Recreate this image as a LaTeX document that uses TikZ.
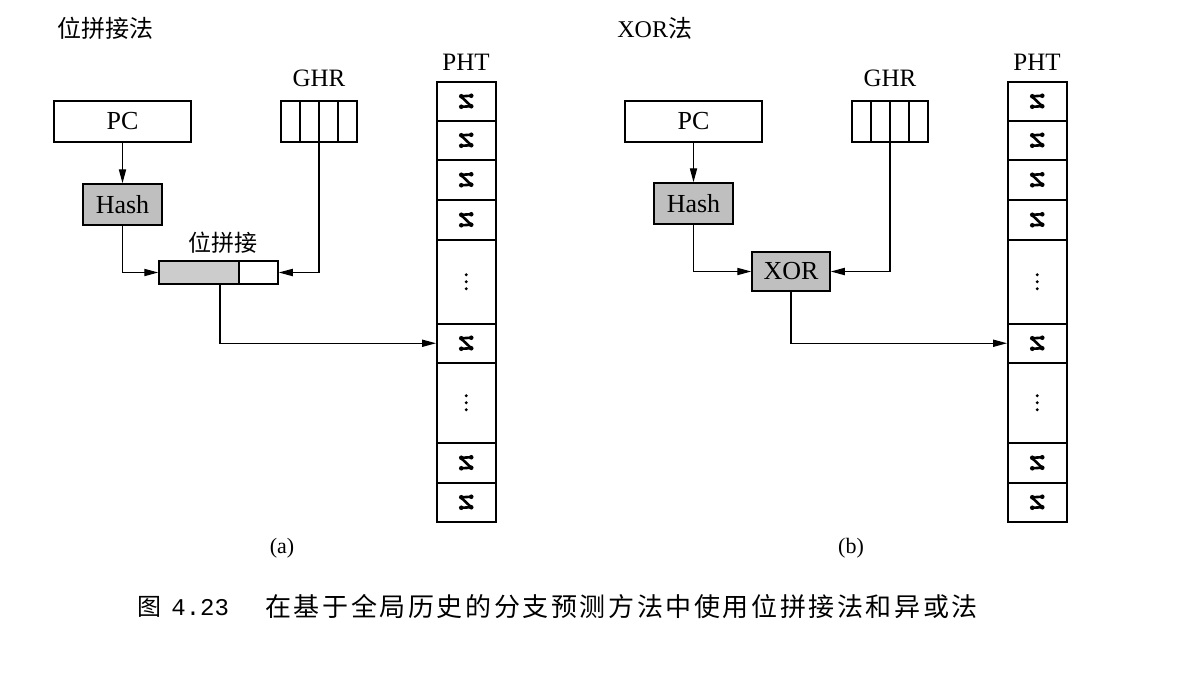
\documentclass[tikz,border=0pt]{standalone}
\usepackage{fontspec}
\setmainfont{Liberation Serif}
\newfontfamily\cjk{Noto Sans CJK SC}
\newfontfamily\cjkcap[LetterSpace=10]{Noto Sans CJK SC}
\newfontfamily\capmono{Liberation Mono}
\usetikzlibrary{arrows.meta}
\tikzset{
  box/.style={draw, line width=0.75pt, inner sep=0pt, font=\fontsize{13}{15}\selectfont},
  graybox/.style={box, fill=black!25},
  cell/.style={draw, line width=0.75pt, inner sep=0pt, minimum width=29.5pt, anchor=north west},
  arr/.style={line width=0.6pt, -{Triangle[length=7pt,width=3.6pt]}},
  lbl/.style={font=\fontsize{12.5}{14}\selectfont, inner sep=0pt},
  ctr/.pic={
    \draw[line width=1.3pt, line join=round] (-5,-5) -- (5,-5.5) (-5,-4.5) -- (5,5) (-5,5.5) -- (5,5);
    \fill (-5,-5) circle (2.3) (5,-5.5) circle (2.3) (-5,5.5) circle (2.3) (5,5) circle (2.3);
  },
  vdots/.pic={
    \fill (0,-7) circle (1.6) (0,0) circle (1.6) (0,7) circle (1.6);
  }
}
\begin{document}
\begin{tikzpicture}[x=0.5pt,y=-0.5pt]
\useasboundingbox (0,0) rectangle (1188,686);
\fill[white] (0,0) rectangle (1188,686);

% ---------- titles ----------
\node[lbl, anchor=west, font=\fontsize{12}{14}\selectfont] (titleA) at (57,28) {\cjk 位拼接法};
\node[lbl, anchor=west, font=\fontsize{12}{14}\selectfont] (titleB) at (617,28) {XOR\cjk 法};

% ---------- PHT columns ----------
\foreach \side/\xl/\lx in {A/436/466, B/1007/1037} {
  \node[lbl] (phtlabel\side) at (\lx,62) {PHT};
  \foreach \i/\ya/\yb/\kind in {1/81/120/c, 2/120/159/c, 3/159/199/c, 4/199/239/c, 5/239/323/d, 6/323/362/c, 7/362/442/d, 8/442/482/c, 9/482/521/c} {
    \pgfmathsetmacro{\hh}{(\yb-\ya)/2}
    \node[cell, minimum height=\hh pt] (pht\side\i) at (\xl,\ya) {};
    \if c\kind
      \pic at (pht\side\i.center) {ctr};
    \else
      \pic at (pht\side\i.center) {vdots};
    \fi
  }
}

% ---------- part (a) ----------
\node[box, minimum width=68.5pt, minimum height=20.5pt] (pcA) at (122.5,121.5) {PC};
\node[graybox, minimum width=39.5pt, minimum height=20.5pt] (hashA) at (122.5,204.5) {Hash};
\node[lbl] (ghrlabelA) at (319,78) {GHR};
\node[box, minimum width=38pt, minimum height=20.5pt] (ghrA) at (319,121.5) {};
\draw[line width=0.75pt] (300,101) -- (300,142) (319,101) -- (319,142) (338,101) -- (338,142);
\fill[black!20] (159,261) rectangle (239,284);
\node[box, minimum width=59.5pt, minimum height=11.5pt] (catA) at (218.5,272.5) {};
\draw[line width=0.75pt] (239,261) -- (239,284);
\node[lbl, font=\fontsize{11.5}{14}\selectfont] (catlabel) at (223,243) {\cjk 位拼接};

\draw[arr] (pcA.south) -- (hashA.north);
\draw[arr] (hashA.south) |- (catA.west);
\draw[arr] (ghrA.south) |- (catA.east);
\draw[arr] ([xshift=0.75pt]catA.south) |- (phtA6.west);

\node[lbl, font=\fontsize{11}{13}\selectfont] (capA) at (282,548) {(a)};

% ---------- part (b) ----------
\node[box, minimum width=68.5pt, minimum height=20.5pt] (pcB) at (693.5,121.5) {PC};
\node[graybox, minimum width=39.5pt, minimum height=20.5pt] (hashB) at (693.5,203.5) {Hash};
\node[lbl] (ghrlabelB) at (890,78) {GHR};
\node[box, minimum width=38pt, minimum height=20.5pt] (ghrB) at (890,121.5) {};
\draw[line width=0.75pt] (871,101) -- (871,142) (890,101) -- (890,142) (909,101) -- (909,142);
\node[graybox, minimum width=39pt, minimum height=19.5pt] (xorB) at (791,271.5) {XOR};

\draw[arr] (pcB.south) -- (hashB.north);
\draw[arr] (hashB.south) |- (xorB.west);
\draw[arr] (ghrB.south) |- (xorB.east);
\draw[arr] (xorB.south) |- (phtB6.west);

\node[lbl, font=\fontsize{11}{13}\selectfont] (capB) at (851,548) {(b)};

% ---------- caption ----------
\node[lbl, anchor=west, font=\fontsize{12}{14}\selectfont] (figno) at (137,607) {\cjk 图\hspace{5pt}\capmono 4.23};
\node[lbl, anchor=west, font=\fontsize{13}{15}\selectfont] (figcap) at (265,607) {\cjkcap 在基于全局历史的分支预测方法中使用位拼接法和异或法};
\end{tikzpicture}
\end{document}
